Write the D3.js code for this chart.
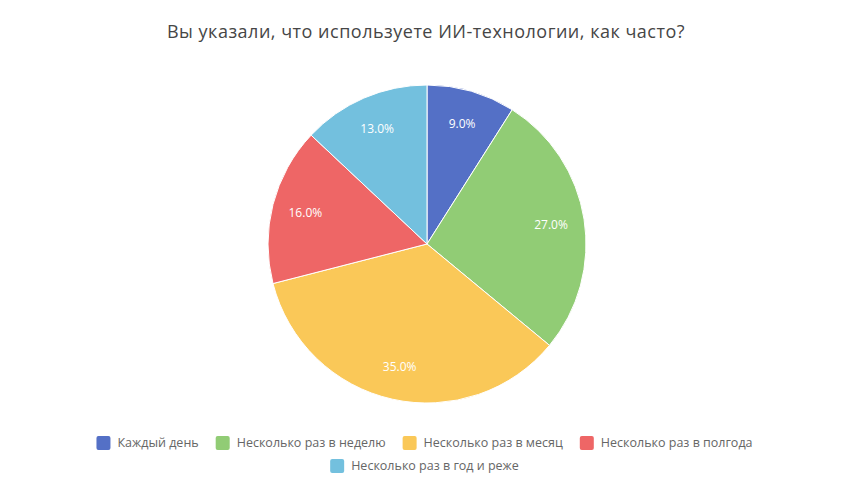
<!DOCTYPE html>
<html><head><meta charset="utf-8">
<script src="https://cdn.jsdelivr.net/npm/d3@7"></script>
<style>body{margin:0;background:#fff}</style>
</head><body>
<svg id="c" width="852" height="492"></svg>
<script>
const title = "Вы указали, что используете ИИ-технологии, как часто?";
const categories = ["Каждый день","Несколько раз в неделю","Несколько раз в месяц","Несколько раз в полгода","Несколько раз в год и реже"];
const values = [9.0, 27.0, 35.0, 16.0, 13.0];
const colors = ["#5470c6","#91cc75","#fac858","#ee6666","#73c0de"];

const svg = d3.select("#c");
const FONT = "'Open Sans', sans-serif";
const cx = 427, cy = 244, R = 159;

svg.append("text").attr("x", 426).attr("y", 38).attr("text-anchor","middle")
  .attr("font-family", FONT).attr("font-size", 18).attr("letter-spacing", 0.5).attr("fill","#464646").text(title);

const data = categories.map((c,i)=>({c, v: values[i], color: colors[i]}));
const pie = d3.pie().value(d=>d.v).sort(null);
const arcs = pie(data);
const arc = d3.arc().innerRadius(0).outerRadius(R);
const labelArc = d3.arc().innerRadius(R*0.79).outerRadius(R*0.79);

const g = svg.append("g").attr("transform",`translate(${cx},${cy})`);
g.selectAll("path").data(arcs).join("path").attr("d",arc)
  .attr("fill",d=>d.data.color).attr("stroke","#fff").attr("stroke-width",1);
g.selectAll("text").data(arcs).join("text")
  .attr("transform",d=>`translate(${labelArc.centroid(d)})`)
  .attr("text-anchor","middle").attr("dy","0.35em")
  .attr("font-family",FONT).attr("font-size",12).attr("fill","#fff")
  .text(d=>d.data.v.toFixed(1)+"%");

// legend
const lg = svg.append("g");
const sw = 14, tg = 7, gap = 17, maxW = 700;
const LF = 12.5, LS = 0;
const meas = svg.append("text").attr("font-family",FONT).attr("font-size",LF).attr("letter-spacing",LS);
const widths = categories.map(c=>{meas.text(c); return meas.node().getComputedTextLength();});
meas.remove();
const rows = []; let cur = [], curW = 0;
categories.forEach((c,i)=>{
  const w = sw + tg + widths[i];
  const add = cur.length ? gap + w : w;
  if (cur.length && curW + add > maxW) { rows.push({items:cur,w:curW}); cur=[]; curW=0; }
  curW += cur.length ? gap + w : w; cur.push(i);
});
rows.push({items:cur,w:curW});
rows.forEach((r,ri)=>{
  let x = 424.5 - r.w/2; const y = 443 + ri*23;
  r.items.forEach(i=>{
    lg.append("rect").attr("x",x).attr("y",y-7).attr("width",sw).attr("height",sw).attr("rx",2).attr("fill",colors[i]);
    lg.append("text").attr("x",x+sw+tg).attr("y",y).attr("dy","0.35em")
      .attr("font-family",FONT).attr("font-size",LF).attr("letter-spacing",LS).attr("fill","#666").text(categories[i]);
    x += sw + tg + widths[i] + gap;
  });
});
</script>
</body></html>
